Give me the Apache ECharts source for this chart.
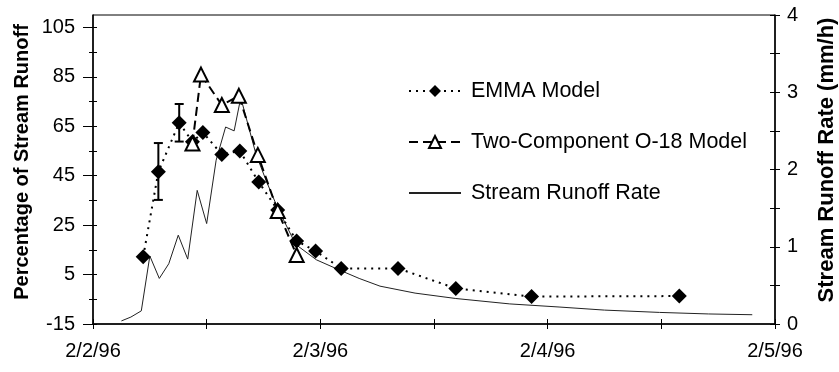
<!DOCTYPE html>
<html>
<head>
<meta charset="utf-8">
<script src="https://cdn.jsdelivr.net/npm/echarts@6/dist/echarts.min.js"></script>
<style>
  html, body { margin: 0; padding: 0; background: #fff; }
  #chart { width: 839px; height: 372px; }
</style>
</head>
<body>
<div id="chart"></div>
<script>
// x positions are hours after midnight, 2 Feb 1996
const dateLabels = ['2/2/96', '2/3/96', '2/4/96', '2/5/96'];
const dateLabelHours = [0, 24, 48, 72];
const xTickHours = [0, 12, 24, 36, 48, 60, 72];

const leftTickLabels = [-15, 5, 25, 45, 65, 85, 105];
const leftTicks = [-15, -5, 5, 15, 25, 35, 45, 55, 65, 75, 85, 95, 105];
const rightTickLabels = [0, 1, 2, 3, 4];
const rightTicks = [0, 0.5, 1, 1.5, 2, 2.5, 3, 3.5, 4];

// EMMA model: percentage of stream runoff
const emmaHours = [5.3, 6.9, 9.1, 10.5, 11.6, 13.6, 15.5, 17.5, 19.5, 21.5, 23.5, 26.2, 32.2, 38.3, 46.3, 61.9];
const emmaPct = [12.2, 46.6, 66.4, 58.7, 62.5, 53.6, 55.0, 42.4, 31.1, 18.6, 14.5, 7.5, 7.5, -0.6, -3.9, -3.7];

// EMMA uncertainty ranges
const errorBarHours = [6.9, 9.1];
const errorBarLow = [35.2, 58.8];
const errorBarHigh = [58.2, 74.0];

// Two-component O-18 model
const o18Hours = [10.5, 11.4, 13.6, 15.4, 17.4, 19.5, 21.5];
const o18Pct = [58.0, 85.9, 73.6, 77.3, 53.4, 30.7, 12.9];

// Stream runoff rate (mm/h)
const runoffHours = [3.0, 4.0, 5.1, 6.0, 7.0, 8.0, 9.0, 10.0, 11.0, 12.0, 13.0, 14.0, 14.9, 15.6, 17.2, 18.3, 19.5, 21.4, 23.6, 26.0, 28.1, 30.3, 34.0, 38.3, 44.0, 49.2, 54.0, 59.8, 65.0, 69.6];
const runoffRate = [0.04, 0.09, 0.17, 0.88, 0.59, 0.78, 1.15, 0.84, 1.73, 1.30, 2.12, 2.55, 2.50, 2.93, 2.20, 1.85, 1.50, 1.03, 0.83, 0.70, 0.59, 0.49, 0.40, 0.33, 0.26, 0.22, 0.18, 0.15, 0.13, 0.12];

const FONT = '"Liberation Sans", Arial, Helvetica, sans-serif';
const pair = (xs, ys) => xs.map((x, i) => [x, ys[i]]);
const CLEAR = 'rgba(0,0,0,0)';
const PLOT = { left: 93, right: 64, top: 15, bottom: 48 };

// Grid 0 holds the data; grids 1 and 2 sit exactly on top of it and only
// carry extra tick marks so the ticks cross the axis lines.
function xAxisDef(grid, opts) {
  return {
    gridIndex: grid, type: 'value', min: 0, max: 72, position: 'bottom',
    axisLine: { show: true, onZero: false, lineStyle: { color: opts.line ? '#000' : CLEAR, width: 1.5 } },
    axisTick: { show: opts.len > 0, inside: !!opts.inside, length: opts.len || 1, customValues: xTickHours, lineStyle: { color: '#000', width: 1 } },
    axisLabel: opts.labels ? {
      show: true, customValues: dateLabelHours, margin: 17,
      formatter: v => dateLabels[dateLabelHours.indexOf(v)],
      color: '#000', fontSize: 20, fontFamily: FONT
    } : { show: false },
    splitLine: { show: false }
  };
}

function yAxisDef(grid, pos, min, max, opts) {
  return {
    gridIndex: grid, type: 'value', min: min, max: max, position: pos,
    axisLine: { show: true, onZero: false, lineStyle: { color: opts.line ? '#000' : CLEAR, width: 1.5 } },
    axisTick: { show: true, inside: !!opts.inside, length: opts.len, customValues: opts.ticks, lineStyle: { color: '#000', width: 1 } },
    axisLabel: opts.labels ? {
      show: true, customValues: opts.labels, margin: opts.margin,
      color: '#000', fontSize: 20, fontFamily: FONT
    } : { show: false },
    splitLine: { show: false }
  };
}

const chart = echarts.init(document.getElementById('chart'), null, { renderer: 'canvas' });

chart.setOption({
  animation: false,
  backgroundColor: '#fff',
  textStyle: { fontFamily: FONT, color: '#000' },
  grid: [
    Object.assign({ show: true, borderColor: '#000', borderWidth: 1, backgroundColor: 'transparent' }, PLOT),
    Object.assign({ show: false }, PLOT),
    Object.assign({ show: false }, PLOT)
  ],
  xAxis: [
    xAxisDef(0, { line: true, labels: true, len: 5 }),
    xAxisDef(1, { inside: true, len: 5 }),
    xAxisDef(2, { len: 0 })
  ],
  yAxis: [
    yAxisDef(0, 'left', -15, 110, { line: true, labels: leftTickLabels, ticks: leftTickLabels, len: 10, margin: 18 }),
    yAxisDef(0, 'right', 0, 4, { line: true, labels: rightTickLabels, ticks: rightTicks, len: 5, margin: 12 }),
    yAxisDef(1, 'left', -15, 110, { inside: true, ticks: leftTicks, len: 4 }),
    yAxisDef(1, 'right', 0, 4, { inside: true, ticks: rightTicks, len: 5 }),
    yAxisDef(2, 'left', -15, 110, { ticks: leftTicks, len: 4 })
  ],
  legend: {
    orient: 'vertical', left: 408, top: 80, padding: 0,
    itemWidth: 52, itemHeight: 15, itemGap: 29,
    data: [
      'EMMA Model',
      'Two-Component O-18 Model',
      { name: 'Stream Runoff Rate', itemStyle: { color: CLEAR, borderColor: CLEAR, opacity: 0 } }
    ],
    textStyle: { fontSize: 21.5, fontFamily: FONT, color: '#000', padding: [0, 0, 0, 5] }
  },
  graphic: [
    {
      type: 'text', x: 22, y: 162, rotation: Math.PI / 2,
      style: { text: 'Percentage of Stream Runoff', font: 'bold 20px ' + FONT, fill: '#000', align: 'center', verticalAlign: 'middle' }
    },
    {
      type: 'text', x: 827, y: 160, rotation: Math.PI / 2,
      style: { text: 'Stream Runoff Rate (mm/h)', font: 'bold 22px ' + FONT, fill: '#000', align: 'center', verticalAlign: 'middle' }
    }
  ],
  series: [
    {
      name: 'Stream Runoff Rate', type: 'line', xAxisIndex: 0, yAxisIndex: 1,
      data: pair(runoffHours, runoffRate),
      showSymbol: false, symbol: 'none',
      lineStyle: { color: '#222', width: 1 },
      itemStyle: { color: '#222' }, z: 2
    },
    {
      name: 'EMMA Model', type: 'line', xAxisIndex: 0, yAxisIndex: 0,
      data: pair(emmaHours, emmaPct),
      symbol: 'diamond', symbolSize: 15,
      lineStyle: { color: '#000', width: 2, type: [2, 5] },
      itemStyle: { color: '#000' }, z: 3
    },
    {
      name: 'Two-Component O-18 Model', type: 'line', xAxisIndex: 0, yAxisIndex: 0,
      data: pair(o18Hours, o18Pct),
      symbol: 'triangle', symbolSize: 14,
      lineStyle: { color: '#000', width: 2, type: [9, 5] },
      itemStyle: { color: '#fff', borderColor: '#000', borderWidth: 2 }, z: 4
    },
    {
      name: 'EMMA range', type: 'custom', xAxisIndex: 0, yAxisIndex: 0,
      data: errorBarHours.map((h, i) => [h, errorBarLow[i], errorBarHigh[i]]),
      encode: { x: 0, y: [1, 2] },
      renderItem: function (params, api) {
        const lo = api.coord([api.value(0), api.value(1)]);
        const hi = api.coord([api.value(0), api.value(2)]);
        const w = 4.5;
        const st = { stroke: '#000', lineWidth: 2 };
        return {
          type: 'group',
          children: [
            { type: 'line', shape: { x1: lo[0], y1: lo[1], x2: hi[0], y2: hi[1] }, style: st },
            { type: 'line', shape: { x1: lo[0] - w, y1: lo[1], x2: lo[0] + w, y2: lo[1] }, style: st },
            { type: 'line', shape: { x1: hi[0] - w, y1: hi[1], x2: hi[0] + w, y2: hi[1] }, style: st }
          ]
        };
      },
      z: 3
    }
  ]
});
</script>
</body>
</html>
